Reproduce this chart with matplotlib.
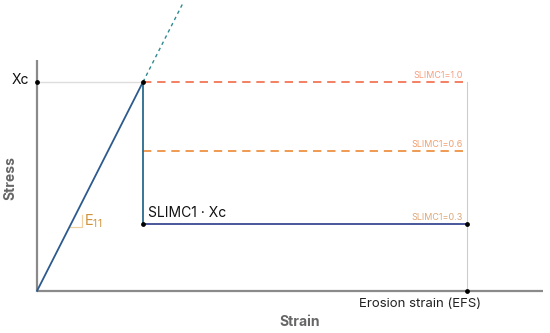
import matplotlib
matplotlib.use("Agg")
import matplotlib.pyplot as plt

plt.rcParams['font.family'] = ['Inter', 'DejaVu Sans']

# ---- data (strain / stress in normalised units) ----
peak_strain = 1.0          # strain at Xc
xc = 1.0                   # compressive strength
efs = 4.06                 # erosion strain
slimc_levels = [1.0, 0.67, 0.32]
slimc_labels = ["SLIMC1=1.0", "SLIMC1=0.6", "SLIMC1=0.3"]
slimc_colors = ["#f26a45", "#ec8a35", "#e0a070"]
label_colors = ["#f4a080", "#f0a070", "#dca878"]
ext_end = 1.378            # end of dotted elastic extension
x_axis_end = 4.77
y_axis_end = 1.105
residual = slimc_levels[2]

fig = plt.figure(figsize=(5.5, 3.33), dpi=100)
ax = fig.add_axes([0, 0, 1, 1])
ax.set_xlim(-0.349, 4.840)
ax.set_ylim(-0.201, 1.392)
ax.axis('off')

# axes lines
ax.plot([0, x_axis_end], [0, 0], color='#8a8a8a', lw=1.6, solid_capstyle='butt', zorder=2)
ax.plot([0, 0], [0, y_axis_end], color='#8a8a8a', lw=1.6, solid_capstyle='butt', zorder=2)

# guide lines
ax.plot([0, peak_strain], [xc, xc], color='#dddddd', lw=1.0, zorder=1)
ax.plot([efs, efs], [0, xc], color='#cccccc', lw=0.8, zorder=1)

# dashed SLIMC levels (1.0 and 0.6)
for lev, c in zip(slimc_levels[:2], slimc_colors[:2]):
    ax.plot([peak_strain, efs - 0.04], [lev, lev], color=c, lw=1.2,
            dashes=(5, 3.5), zorder=3)

# dotted elastic extension
ax.plot([peak_strain, ext_end], [xc, ext_end], color='#2f8a90', lw=1.0,
        dashes=(2.5, 2.5), zorder=3)

# main curve
ax.plot([0, peak_strain], [0, xc], color='#2c5a8e', lw=1.3, zorder=4)
ax.plot([peak_strain, peak_strain], [xc, residual], color='#2a6a8e', lw=1.3, zorder=4)
ax.plot([peak_strain, efs], [residual, residual], color='#3a4a92', lw=1.3, zorder=4)

# dots
pts_x = [0, peak_strain, peak_strain, efs, efs]
pts_y = [xc, xc, residual, residual, 0]
ax.scatter(pts_x, pts_y, s=12, color='black', zorder=6, linewidths=0)

# E11 bracket
ax.plot([0.306, 0.425, 0.425], [0.306, 0.306, 0.364], color='#f0d0a0', lw=0.9, zorder=3)
ax.text(0.44, 0.312, r'$\mathregular{E_{11}}$', color='#d0923a', fontsize=10.5,
        ha='left', va='baseline')

# texts
ax.text(-0.07, xc + 0.01, 'Xc', fontsize=10, ha='right', va='center', color='#111111')
ax.text(peak_strain + 0.05, residual + 0.02, 'SLIMC1 · Xc', fontsize=10,
        ha='left', va='bottom', color='#111111')
ax.text(3.61, -0.062, 'Erosion strain (EFS)', fontsize=9.5, ha='center', va='center',
        color='#222222')
ax.text(2.48, -0.148, 'Strain', fontsize=10, fontweight='bold', ha='center',
        va='center', color='#666666')
ax.text(-0.255, 0.54, 'Stress', fontsize=10, fontweight='bold', ha='center',
        va='center', rotation=90, color='#666666')

for lev, lab, c in zip(slimc_levels, slimc_labels, label_colors):
    ax.text(efs - 0.04, lev + 0.01, lab, fontsize=6.5, ha='right', va='bottom', color=c)

fig.savefig('out.png', dpi=100)
